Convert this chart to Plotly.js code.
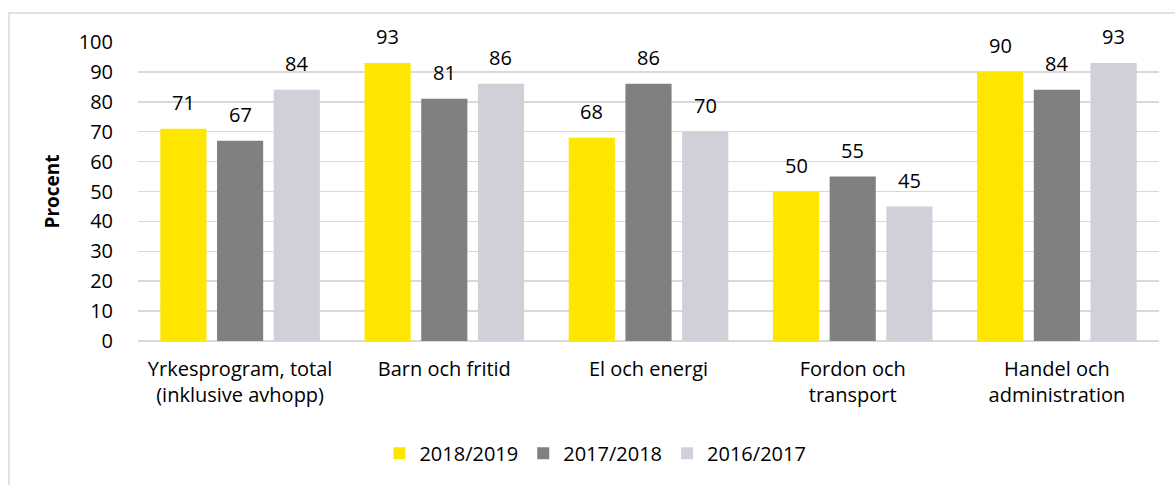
<!DOCTYPE html>
<html><head><meta charset="utf-8">
<script src="https://cdn.plot.ly/plotly-3.0.1.min.js"></script>
<style>html,body{margin:0;padding:0;background:#fff}#c{width:1175px;height:485px}</style>
</head><body><div id="c"></div>
<script>
const categories = ["Yrkesprogram, total<br>(inklusive avhopp)", "Barn och fritid", "El och energi", "Fordon och<br>transport", "Handel och<br>administration"];
const seriesNames = ["2018/2019", "2017/2018", "2016/2017"];
const s2018_2019 = [71, 93, 68, 50, 90];
const s2017_2018 = [67, 81, 86, 55, 84];
const s2016_2017 = [84, 86, 70, 45, 93];
const colors = ["#FFE600", "#808080", "#D0D0D8"];

const W = 1175, H = 485;
const M = {l: 138, r: 16, t: 42, b: 144};
const plotW = W - M.l - M.r, plotH = H - M.t - M.b;
const bargap = 0.167, bargroupgap = 0.186;
const font = "'Open Sans', sans-serif";
const fs = 20;

const allSeries = [s2018_2019, s2017_2018, s2016_2017];
const traces = allSeries.map((vals, i) => ({
  type: "bar", name: seriesNames[i], x: categories, y: vals,
  marker: {color: colors[i]}, hoverinfo: "skip"
}));

const slot = plotW / categories.length * (1 - bargap) / 3;
const annotations = [];
allSeries.forEach((vals, i) => {
  vals.forEach((v, j) => {
    annotations.push({x: categories[j], y: v, xref: "x", yref: "y", text: String(v),
      showarrow: false, xshift: (i - 1) * slot, yshift: 26,
      font: {family: font, size: fs, color: "#000"}});
  });
});

const shapes = [{type: "rect", xref: "paper", yref: "paper",
  x0: (9 - M.l) / plotW, x1: (W + 20 - M.l) / plotW,
  y0: -(H + 20 - M.t - plotH) / plotH, y1: 1 + (M.t - 13) / plotH,
  line: {color: "#d9d9d9", width: 1.5}, fillcolor: "rgba(0,0,0,0)", layer: "below"}];

const layout = {
  width: W, height: H, margin: M, paper_bgcolor: "#fff", plot_bgcolor: "#fff",
  barmode: "group", bargap: bargap, bargroupgap: bargroupgap,
  font: {family: font, size: fs, color: "#000"},
  xaxis: {type: "category", showgrid: false, zeroline: false, showline: false,
    ticks: "outside", ticklen: 10, tickcolor: "rgba(0,0,0,0)",
    tickfont: {family: font, size: fs, color: "#000"}},
  yaxis: {range: [0, 100], dtick: 10, showgrid: true, gridcolor: "#d9d9d9", gridwidth: 1.5,
    zeroline: true, zerolinecolor: "#d9d9d9", zerolinewidth: 1.5,
    ticks: "outside", ticklen: 20, tickcolor: "rgba(0,0,0,0)",
    tickfont: {family: font, size: fs, color: "#000"},
    title: {text: "<b>Procent</b>", font: {family: font, size: 19, color: "#000"}, standoff: 14}},
  legend: {orientation: "h", x: 0.448, xanchor: "center", y: -0.375, yanchor: "middle",
    font: {family: font, size: fs, color: "#000"}, itemwidth: 30, tracegroupgap: 0},
  showlegend: true,
  annotations: annotations, shapes: shapes
};
Plotly.newPlot("c", traces, layout, {displayModeBar: false, staticPlot: true});
</script></body></html>
